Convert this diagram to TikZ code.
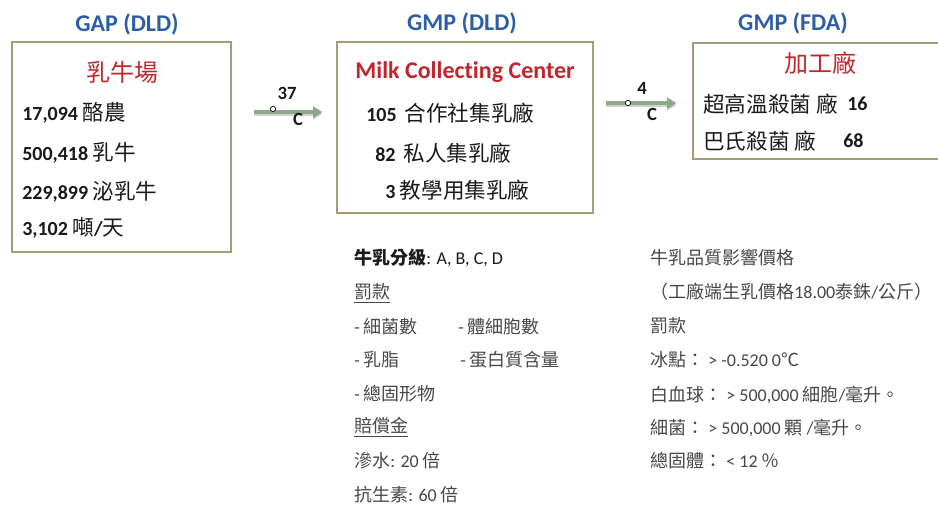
\documentclass[tikz,border=0pt]{standalone}
\usepackage{fontspec}
\setmainfont{Carlito}[Ligatures=NoCommon]
\newfontfamily\cjk{Noto Sans CJK TC}
\newfontfamily\cjkbig[Scale=1.08]{Noto Sans CJK TC}
\usetikzlibrary{arrows.meta}
\definecolor{BLUE}{HTML}{2E5DA8}
\definecolor{RED}{HTML}{C0272D}
\definecolor{TAN}{HTML}{A89B78}
\definecolor{ARROW}{HTML}{8DAA88}
\definecolor{INK}{HTML}{1A1A1A}
\definecolor{GREY}{HTML}{474747}

\begin{document}
\begin{tikzpicture}[x=0.75pt, y=-0.75pt,
    box/.style={draw=TAN, line width=1pt, fill=white, inner sep=0pt},
    head/.style={BLUE, inner sep=0pt, font=\fontsize{18}{20}\selectfont\bfseries},
    title/.style={RED, inner sep=0pt, font=\fontsize{18}{20}\selectfont},
    row/.style={INK, anchor=west, inner sep=0pt, font=\fontsize{15}{18}\selectfont\bfseries},
    note/.style={GREY, anchor=west, inner sep=0pt, font=\fontsize{13.5}{16}\selectfont},
    flow/.style={ARROW, line width=3pt, -{Triangle[length=7pt,width=8pt]}},
    shade/.style={black, opacity=.18, line width=3pt, -{Triangle[length=7pt,width=8pt]}},
    tick/.style={circle, draw=INK, fill=white, line width=0.6pt, inner sep=0pt, minimum size=4pt},
    lab/.style={INK, inner sep=0pt, font=\fontsize{14}{16}\selectfont\bfseries}]
    \useasboundingbox (0,0) rectangle (938,505);

    \node[box, minimum width=164.25pt, minimum height=157.5pt] (farm) at (121.5,147) {};
    \node[box, minimum width=192pt, minimum height=128.25pt] (center) at (465,127.5) {};
    \node[box, minimum width=186.75pt, minimum height=87pt] (plant) at (817.5,101) {};

    \node[head] (gap) at (127,24) {GAP (DLD)};
    \node[head] (gmpd) at (462,23) {GMP (DLD)};
    \node[head] (gmpf) at (793,23) {GMP (FDA)};

    \node[title] (farmt) at (122,72) {\cjk 乳牛場};
    \node[title, font=\fontsize{18}{20}\selectfont\bfseries] (mcc) at (465,72) {Milk Collecting Center};
    \node[title] (plantt) at (820,63) {\cjk 加工廠};

    \node[row] (dairy) at (22,113) {17,094 {\cjkbig\mdseries 酪農}};
    \node[row] (cows) at (22,153) {500,418 {\cjkbig\mdseries 乳牛}};
    \node[row] (milking) at (22,192) {229,899 {\cjkbig\mdseries 泌乳牛}};
    \node[row] (yield) at (22,228) {3,102 {\cjkbig\mdseries 噸}/{\cjkbig\mdseries 天}};

    \node[row] (coop) at (366,113) {105\hspace{6pt}{\cjkbig\mdseries 合作社集乳廠}};
    \node[row] (private) at (375,153) {82\hspace{6pt}{\cjkbig\mdseries 私人集乳廠}};
    \node[row] (school) at (385,190) {3 {\cjkbig\mdseries 教學用集乳廠}};

    \node[row] (uht) at (703,104) {\cjkbig\mdseries 超高溫殺菌 廠};
    \node[row] (uhtn) at (847,104) {16};
    \node[row] (past) at (703,141) {\cjkbig\mdseries 巴氏殺菌 廠};
    \node[row] (pastn) at (843,141) {68};

    \coordinate (l1) at (0,112);
    \coordinate (l2) at (0,103);
    \draw[shade, shorten <=16.5pt, shorten >=10.5pt] ([yshift=-1.5pt]farm.east |- l1) -- ([yshift=-1.5pt]center.west |- l1);
    \draw[flow, shorten <=16.5pt, shorten >=10.5pt] (farm.east |- l1) -- (center.west |- l1);
    \draw[shade, shorten <=9pt, shorten >=12pt] ([yshift=-1.5pt]center.east |- l2) -- ([yshift=-1.5pt]plant.west |- l2);
    \draw[flow, shorten <=9pt, shorten >=12pt] (center.east |- l2) -- (plant.west |- l2);
    \node[tick] (o1) at (273,109) {};
    \node[lab] (n37) at (287,93) {37};
    \node[lab] (c37) at (298,119) {C};
    \node[tick] (o2) at (628,103) {};
    \node[lab] (n4) at (642,88) {4};
    \node[lab] (c4) at (652,114) {C};

    \node[note, INK] (grade) at (354,258) {{\cjk\bfseries 牛乳分級}: A, B, C, D};
    \node[note] (fine) at (354,293) {\underline{\cjk 罰款}};
    \node[note] (bact) at (354,327) {- {\cjk 細菌數}};
    \node[note] (scc) at (458,327) {- {\cjk 體細胞數}};
    \node[note] (fat) at (354,360) {- {\cjk 乳脂}};
    \node[note] (prot) at (460,360) {- {\cjk 蛋白質含量}};
    \node[note] (solid) at (354,394) {- {\cjk 總固形物}};
    \node[note] (comp) at (354,427) {\underline{\cjk 賠償金}};
    \node[note] (water) at (354,461) {{\cjk 滲水}: 20 {\cjk 倍}};
    \node[note] (anti) at (354,495) {{\cjk 抗生素}: 60 {\cjk 倍}};

    \node[note] (price) at (650,258) {\cjk 牛乳品質影響價格};
    \node[note] (factory) at (650,292) {{\cjk （工廠端生乳價格}18.00{\cjk 泰銖}/{\cjk 公斤）}};
    \node[note] (fine2) at (650,326) {\cjk 罰款};
    \node[note] (frz) at (650,360) {{\cjk 冰點：} > -0.520 0{\cjk ℃}};
    \node[note] (wbc) at (650,395) {{\cjk 白血球：} > 500,000 {\cjk 細胞}/{\cjk 毫升。}};
    \node[note] (bac2) at (650,428) {{\cjk 細菌：} > 500,000 {\cjk 顆} /{\cjk 毫升。}};
    \node[note] (ts) at (650,461) {{\cjk 總固體：} < 12 {\cjk ％}};
\end{tikzpicture}
\end{document}
